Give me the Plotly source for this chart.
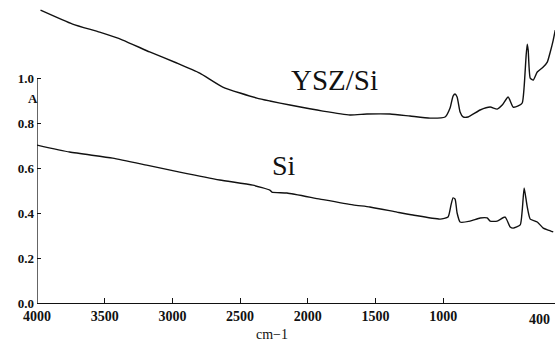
import plotly.graph_objects as go

# Wavenumber (cm-1) and absorbance readings
ysz_wn = [3974, 3737, 3537, 3367, 3168, 2968, 2798, 2628, 2376, 2280, 2132, 1888, 1688,
          1563, 1393, 1245, 1097, 986, 949, 927, 912, 897, 875, 853, 816, 727, 653, 601,
          564, 520, 483, 446, 416, 402, 387, 379, 372, 357, 335, 305, 261, 231, 209, 187, 172]
ysz_a = [1.302, 1.240, 1.204, 1.169, 1.116, 1.067, 1.022, 0.960, 0.911, 0.898, 0.880, 0.853,
         0.836, 0.840, 0.840, 0.831, 0.822, 0.827, 0.867, 0.920, 0.929, 0.916, 0.849, 0.827,
         0.827, 0.858, 0.871, 0.862, 0.880, 0.916, 0.871, 0.876, 0.889, 0.960, 1.102, 1.151,
         1.124, 1.000, 0.991, 1.027, 1.049, 1.071, 1.116, 1.169, 1.213]

si_wn = [4000, 3759, 3441, 3190, 2946, 2650, 2406, 2280, 2265, 2154, 1910, 1666, 1541, 1341,
         1223, 1023, 964, 942, 927, 912, 897, 875, 801, 727, 675, 653, 601, 542, 505, 483,
         431, 416, 402, 387, 379, 357, 305, 261, 224, 187]
si_a = [0.702, 0.671, 0.644, 0.613, 0.582, 0.547, 0.524, 0.502, 0.493, 0.489, 0.462, 0.436,
        0.427, 0.404, 0.391, 0.373, 0.382, 0.436, 0.467, 0.462, 0.400, 0.360, 0.364, 0.378,
        0.378, 0.364, 0.364, 0.382, 0.338, 0.333, 0.347, 0.413, 0.511, 0.458, 0.427, 0.373,
        0.360, 0.333, 0.324, 0.316]

x_ticks = [4000, 3500, 3000, 2500, 2000, 1500, 1000]
y_ticks = [0.0, 0.2, 0.4, 0.6, 0.8, 1.0]

tick_font = dict(family="Liberation Serif", size=14, color="#111")

fig = go.Figure()
fig.add_trace(go.Scatter(x=ysz_wn, y=ysz_a, mode="lines", line_shape="spline",
                         line=dict(color="#111", width=1.4, smoothing=0.5), showlegend=False))
fig.add_trace(go.Scatter(x=si_wn, y=si_a, mode="lines", line_shape="spline",
                         line=dict(color="#111", width=1.4, smoothing=0.5), showlegend=False))

fig.update_xaxes(range=[4000, 174], tickvals=x_ticks,
                 ticktext=[f"<b>{v}</b>" for v in x_ticks],
                 showline=True, linecolor="#111", linewidth=1.2,
                 ticks="inside", ticklen=5, tickcolor="#111",
                 showgrid=False, zeroline=False, tickfont=tick_font)
fig.update_yaxes(range=[0, 1.347], tickvals=y_ticks,
                 ticktext=[f"<b>{v:.1f}</b>" for v in y_ticks],
                 showline=False, ticks="inside", ticklen=4, tickcolor="#111",
                 showgrid=False, zeroline=False,
                 tickfont=dict(family="Liberation Serif", size=13, color="#111"),
                 ticklabelstandoff=2)

# y axis line only up to 1.0
fig.add_shape(type="line", xref="x", yref="y", x0=4000, x1=4000, y0=0, y1=1.0,
              line=dict(color="#111", width=1.3))

fig.add_annotation(x=285, y=0, xref="x", yref="y", yshift=-16, text="<b>400</b>",
                   showarrow=False, font=tick_font)
fig.add_annotation(x=-0.022, y=0.91, xref="paper", yref="y", text="<b>A</b>",
                   showarrow=False, font=dict(family="Liberation Serif", size=13, color="#111"))
fig.add_annotation(x=2264, y=-0.103, xref="x", yref="paper", yanchor="middle",
                   text="cm\u22121", showarrow=False,
                   font=dict(family="Liberation Serif", size=14, color="#111"))
fig.add_annotation(x=1799, y=0.991, xref="x", yref="y", text="YSZ/Si",
                   showarrow=False, font=dict(family="Liberation Serif", size=29, color="#111"))
fig.add_annotation(x=2176, y=0.613, xref="x", yref="y", text="Si",
                   showarrow=False, font=dict(family="Liberation Serif", size=28, color="#111"))

fig.update_layout(width=555, height=345, margin=dict(l=37, r=0, t=0, b=42),
                  plot_bgcolor="white", paper_bgcolor="white")

fig.write_html("out.html")
